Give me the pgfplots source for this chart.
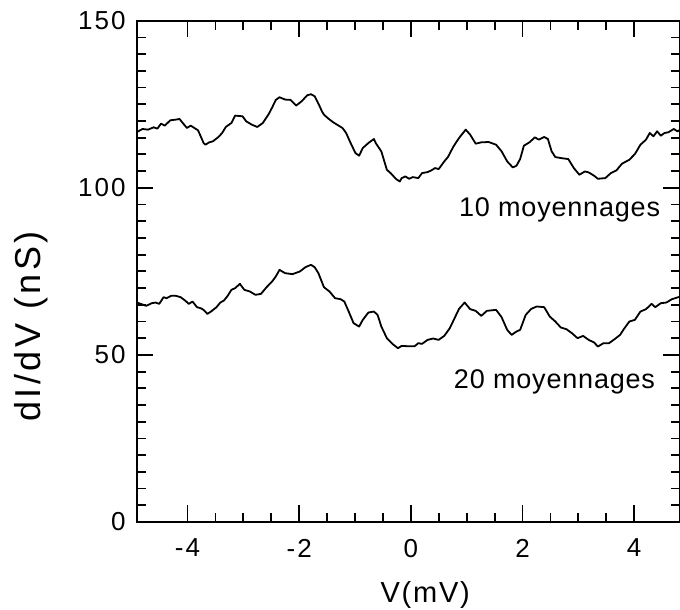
\documentclass[border=0pt]{standalone}
\usepackage{fontspec}
\setmainfont{Liberation Sans}
\newfontfamily\tickfont[LetterSpace=8]{Liberation Sans}
\newfontfamily\labelfont[LetterSpace=6]{Liberation Sans}
\newfontfamily\ylabfont[LetterSpace=10]{Liberation Sans}
\newfontfamily\notefont[LetterSpace=3]{Liberation Sans}
\usepackage{pgfplots}
\pgfplotsset{compat=1.18}

% dI/dV spectra, 10 averages
\pgfplotstableread{
x y
-4.905 116.7
-4.806 117.6
-4.706 117.4
-4.607 118.1
-4.540 117.7
-4.474 119.2
-4.408 118.6
-4.308 120.2
-4.209 120.4
-4.143 120.6
-4.076 119.2
-4.010 117.9
-3.944 118.6
-3.877 117.9
-3.811 117.2
-3.712 113.4
-3.678 112.9
-3.612 113.6
-3.546 113.9
-3.446 115.2
-3.380 116.4
-3.314 118.2
-3.214 119.4
-3.148 121.6
-3.015 121.4
-2.949 119.9
-2.850 118.9
-2.750 118.2
-2.651 119.4
-2.551 121.9
-2.485 124.0
-2.419 126.3
-2.352 127.1
-2.253 126.4
-2.154 126.3
-2.054 124.6
-1.955 125.9
-1.855 127.7
-1.789 128.0
-1.723 127.4
-1.656 125.2
-1.590 122.8
-1.557 121.9
-1.491 120.9
-1.391 119.6
-1.225 117.9
-1.159 116.4
-1.093 113.9
-0.993 110.4
-0.927 109.6
-0.861 111.9
-0.761 113.4
-0.662 114.6
-0.629 113.4
-0.529 110.9
-0.430 105.4
-0.363 104.4
-0.264 102.6
-0.198 101.9
-0.164 102.9
-0.098 103.4
-0.032 102.7
0.034 103.2
0.134 102.9
0.200 104.4
0.300 104.7
0.366 105.2
0.432 105.9
0.498 105.6
0.598 107.9
0.664 109.2
0.764 112.4
0.863 114.9
0.982 117.4
1.062 115.9
1.161 113.2
1.261 113.6
1.393 113.7
1.526 112.9
1.625 110.9
1.725 107.9
1.825 106.1
1.891 106.6
1.957 108.6
2.024 112.6
2.123 113.6
2.222 115.1
2.289 114.4
2.388 115.2
2.454 114.6
2.521 110.9
2.587 109.2
2.686 108.9
2.819 108.6
2.919 105.9
3.018 103.9
3.117 104.9
3.184 104.6
3.283 103.6
3.349 102.7
3.482 102.9
3.581 104.4
3.681 105.2
3.780 107.2
3.913 108.4
4.012 110.1
4.112 112.9
4.211 114.4
4.278 116.4
4.344 115.4
4.410 116.9
4.476 115.6
4.543 116.4
4.609 116.6
4.709 117.6
4.775 116.9
4.828 117.4
}\tabdix

% dI/dV spectra, 20 averages
\pgfplotstableread{
x y
-4.905 65.67
-4.839 65.27
-4.739 64.68
-4.640 65.47
-4.573 65.67
-4.507 65.27
-4.428 67.27
-4.375 66.97
-4.295 67.67
-4.209 67.67
-4.123 67.27
-4.043 66.27
-3.977 65.27
-3.910 65.97
-3.831 64.28
-3.765 63.98
-3.712 63.48
-3.645 62.28
-3.579 62.98
-3.480 64.28
-3.413 65.67
-3.347 66.27
-3.281 67.67
-3.214 69.47
-3.148 69.97
-3.062 71.26
-2.982 69.47
-2.883 68.97
-2.783 67.97
-2.684 68.27
-2.584 70.26
-2.485 71.96
-2.419 73.46
-2.352 75.45
-2.253 74.46
-2.120 74.16
-1.988 74.96
-1.888 76.25
-1.789 76.95
-1.723 76.25
-1.656 74.46
-1.557 70.26
-1.457 68.97
-1.358 66.97
-1.258 66.67
-1.192 65.97
-1.126 63.48
-1.026 59.49
-0.927 58.49
-0.861 60.48
-0.761 62.68
-0.662 62.98
-0.596 61.98
-0.529 58.49
-0.430 55.00
-0.330 53.30
-0.231 52.00
-0.165 52.70
-0.065 52.60
0.067 52.60
0.134 53.50
0.200 53.30
0.300 54.50
0.399 54.90
0.498 54.50
0.598 55.69
0.697 57.99
0.797 61.48
0.863 63.78
0.963 65.67
1.062 63.68
1.161 63.18
1.261 61.68
1.360 63.18
1.526 63.48
1.625 61.28
1.725 57.49
1.805 55.99
1.891 56.99
1.957 57.49
2.057 61.98
2.156 63.78
2.255 64.48
2.388 64.28
2.487 61.48
2.587 59.99
2.686 58.19
2.786 57.69
2.885 56.49
2.985 55.00
3.084 55.69
3.184 54.50
3.283 53.70
3.349 52.50
3.449 53.50
3.548 53.50
3.648 54.70
3.747 55.99
3.813 57.69
3.913 59.99
4.012 60.48
4.112 62.98
4.211 63.68
4.311 65.27
4.377 64.28
4.476 65.47
4.576 65.67
4.675 66.67
4.828 67.47
}\tabvingt

\begin{document}
\begin{tikzpicture}
\begin{axis}[
  name=ax,
  scale only axis,
  width=271.65pt, height=250.65pt,
  xmin=-4.91, xmax=4.82,
  ymin=0, ymax=150,
  xtick={-4,-2,0,2,4},
  ytick={0,50,100,150},
  minor x tick num=3,
  minor y tick num=9,
  tick pos=both,
  tick align=inside,
  major tick length=8.3pt,
  minor tick length=4.6pt,
  every tick/.style={black, line width=0.9pt},
  axis line style={line width=1pt},
  /pgf/number format/assume math mode=true,
  ticklabel style={font=\tickfont\fontsize{13}{15}\selectfont},
  xticklabel style={yshift=-5pt},
  yticklabel style={xshift=-2pt},
  xlabel={V(mV)},
  ylabel={dI/dV (nS)},
  xlabel style={font=\labelfont\fontsize{14.5}{17}\selectfont, inner sep=0pt,
    at={(axis description cs:0.531,-0.118)}, anchor=north},
  ylabel style={font=\ylabfont\fontsize{18}{20}\selectfont, inner sep=0pt,
    at={(axis description cs:-0.195,0.390)}, anchor=center},
]
\addplot[black, line width=0.9pt, line join=round] table {\tabdix};
\addplot[black, line width=0.9pt, line join=round] table {\tabvingt};
\node[anchor=east, inner sep=0pt, font=\notefont\fontsize{13.5}{15}\selectfont]
  at (axis cs:4.47,93.4) {10 moyennages};
\node[anchor=east, inner sep=0pt, font=\notefont\fontsize{13.5}{15}\selectfont]
  at (axis cs:4.38,42.0) {20 moyennages};
\end{axis}
\pgfresetboundingbox
\path ([xshift=-68.35pt,yshift=-44pt]ax.south west) rectangle ([yshift=10.35pt]ax.north east);
\end{tikzpicture}
\end{document}
